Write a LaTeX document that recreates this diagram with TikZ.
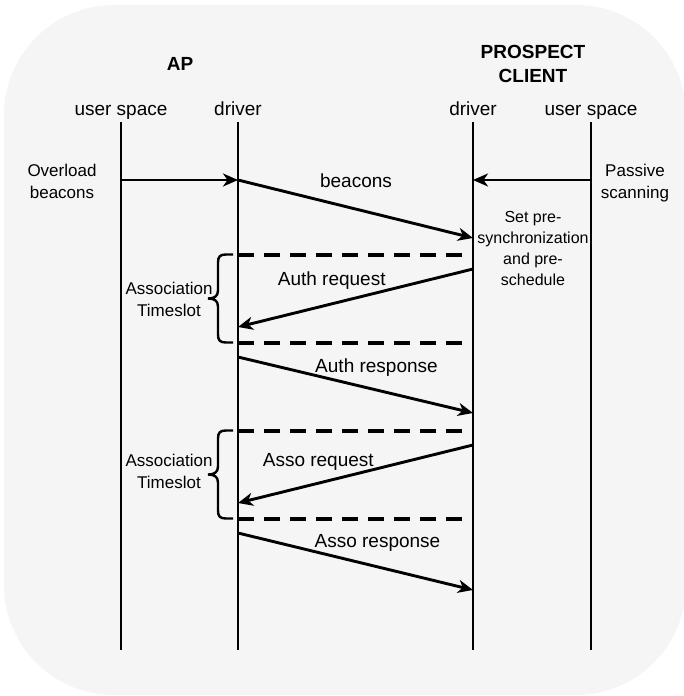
\documentclass[tikz,border=0pt]{standalone}
\usepackage{fontspec}
\setmainfont{Liberation Sans}
\usetikzlibrary{arrows.meta}
\definecolor{panel}{HTML}{F5F5F5}
\begin{document}
\begin{tikzpicture}[x=1pt,y=-1pt,
  lifeline/.style={line width=2.6pt},
  msg/.style={line width=2.9pt,-{Stealth[length=15pt,width=13pt,inset=4.5pt]}},
  slot/.style={line width=4.2pt,dash pattern=on 16pt off 10pt},
  bracepath/.style={line width=2.4pt},
  head/.style={font=\fontsize{19}{23}\selectfont,anchor=base,align=center,inner sep=0pt},
  boldhead/.style={font=\fontsize{19}{23.5}\selectfont\bfseries,anchor=base,align=center,inner sep=0pt},
  lbl/.style={font=\fontsize{19}{23}\selectfont,anchor=base,inner sep=0pt},
  note/.style={font=\fontsize{17}{21.5}\selectfont,anchor=base,align=center,inner sep=0pt},
  small/.style={font=\fontsize{16}{20.7}\selectfont,anchor=base,align=center,inner sep=0pt},
  slotbrace/.pic={
    \draw[bracepath] (25,-44) -- (18,-44) .. controls (12,-44) and (10,-42) .. (10,-36)
      -- (10,-8) .. controls (10,-2) and (6,0) .. (0,0)
      .. controls (6,0) and (10,2) .. (10,8)
      -- (10,36) .. controls (10,42) and (12,44) .. (18,44) -- (25,44);
  },
]
\useasboundingbox (0,0) rectangle (684,696);
\fill[panel,rounded corners=110pt] (4,5) rectangle (686,695);

% headings (multi-line nodes sit on the baseline of their last line)
\node[boldhead] (ap) at (180,70) {AP};
\node[boldhead] (client) at (533,82) {PROSPECT\\CLIENT};
\node[head] (apuser) at (121,115) {user space};
\node[head] (apdrv) at (238,115) {driver};
\node[head] (cldrv) at (473,115) {driver};
\node[head] (cluser) at (591,115) {user space};

% lifelines
\coordinate (apuserT) at (121,122); \coordinate (apuserB) at (121,650);
\coordinate (apdrvT) at (238,122);  \coordinate (apdrvB) at (238,650);
\coordinate (cldrvT) at (473,122);  \coordinate (cldrvB) at (473,650);
\coordinate (cluserT) at (591,122); \coordinate (cluserB) at (591,650);
\draw[lifeline] (apuserT) -- (apuserB);
\draw[lifeline] (apdrvT) -- (apdrvB);
\draw[lifeline] (cldrvT) -- (cldrvB);
\draw[lifeline] (cluserT) -- (cluserB);

% message anchors on the lifelines
\coordinate (ovA) at (121,180); \coordinate (ovB) at (238,180);
\coordinate (psA) at (591,180); \coordinate (psB) at (473,180);
\coordinate (bcA) at (238,180); \coordinate (bcB) at (473,238);
\coordinate (arqA) at (473,269); \coordinate (arqB) at (238,327);
\coordinate (arsA) at (238,357); \coordinate (arsB) at (473,413);
\coordinate (sqA) at (473,445); \coordinate (sqB) at (238,503);
\coordinate (ssA) at (238,533); \coordinate (ssB) at (473,590);

% timeslot bounds
\coordinate (t1a) at (238,255); \coordinate (t1b) at (466,255);
\coordinate (t2a) at (238,343); \coordinate (t2b) at (466,343);
\coordinate (t3a) at (238,431); \coordinate (t3b) at (466,431);
\coordinate (t4a) at (238,519); \coordinate (t4b) at (466,519);
\draw[slot] (t1a) -- (t1b);
\draw[slot] (t2a) -- (t2b);
\draw[slot] (t3a) -- (t3b);
\draw[slot] (t4a) -- (t4b);

% messages
\draw[msg] (ovA) -- (ovB);
\draw[msg] (psA) -- (psB);
\draw[msg] (bcA) -- (bcB);
\draw[msg] (arqA) -- (arqB);
\draw[msg] (arsA) -- (arsB);
\draw[msg] (sqA) -- (sqB);
\draw[msg] (ssA) -- (ssB);

% braces
\pic at (208,298.5) {slotbrace};
\pic at (208,474.5) {slotbrace};

% labels
\node[lbl] (lbeacons) at (356,187.3) {beacons};
\node[lbl] (lauthreq) at (331.7,285.7) {Auth request};
\node[lbl] (lauthres) at (376.5,372.7) {Auth response};
\node[lbl] (lassoreq) at (318.3,466.7) {Asso request};
\node[lbl] (lassores) at (377.5,547.7) {Asso response};

\node[note] (overload) at (62,198.2) {Overload\\beacons};
\node[note] (passive) at (635,198) {Passive\\scanning};
\node[small] (presync) at (533,285) {Set pre-\\synchronization\\and pre-\\schedule};
\node[note] (slot1) at (169,316) {Association\\Timeslot};
\node[note] (slot2) at (169,488.3) {Association\\Timeslot};
\end{tikzpicture}
\end{document}
